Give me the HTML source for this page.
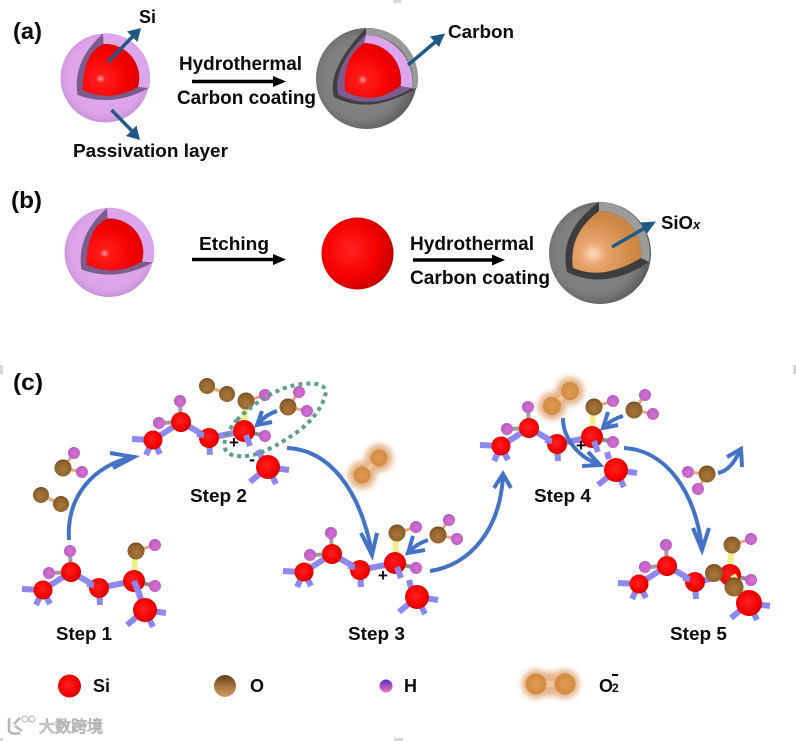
<!DOCTYPE html>
<html><head><meta charset="utf-8"><style>
html,body{margin:0;padding:0;background:#fff}
svg{display:block}
text{font-family:"Liberation Sans",Arial,sans-serif;font-weight:bold;fill:#0a0a0a}
</style></head><body>
<svg width="796" height="741" viewBox="0 0 796 741" xmlns="http://www.w3.org/2000/svg">
<defs>
<radialGradient id="pk" cx=".5" cy=".48" r=".55"><stop offset="0" stop-color="#e6b2f0"/><stop offset=".8" stop-color="#dca2e8"/><stop offset="1" stop-color="#c08ccf"/></radialGradient>
<radialGradient id="gy" cx=".45" cy=".5" r=".55"><stop offset="0" stop-color="#8f8f8f"/><stop offset=".75" stop-color="#7c7c7c"/><stop offset="1" stop-color="#5a5a5a"/></radialGradient>
<radialGradient id="rd" cx=".32" cy=".67" r=".8"><stop offset="0" stop-color="#ffa0a0"/><stop offset=".1" stop-color="#ff1c1c"/><stop offset=".6" stop-color="#f50000"/><stop offset="1" stop-color="#d80000"/></radialGradient>
<radialGradient id="rb" cx=".4" cy=".45" r=".62"><stop offset="0" stop-color="#ff2222"/><stop offset=".6" stop-color="#f60000"/><stop offset="1" stop-color="#c50000"/></radialGradient>
<radialGradient id="or" cx=".3" cy=".69" r=".85"><stop offset="0" stop-color="#ffdcc0"/><stop offset=".22" stop-color="#e9a56e"/><stop offset=".65" stop-color="#d18b48"/><stop offset="1" stop-color="#c47f3e"/></radialGradient>
<radialGradient id="si" cx=".45" cy=".45" r=".6"><stop offset="0" stop-color="#ff2020"/><stop offset=".75" stop-color="#f00000"/><stop offset="1" stop-color="#c80000"/></radialGradient>
<radialGradient id="ox" cx=".5" cy=".6" r=".65"><stop offset="0" stop-color="#a9773a"/><stop offset=".7" stop-color="#8e622c"/><stop offset="1" stop-color="#5f3f18"/></radialGradient>
<radialGradient id="hy" cx=".55" cy=".55" r=".65"><stop offset="0" stop-color="#d86fd0"/><stop offset=".7" stop-color="#bf62c6"/><stop offset="1" stop-color="#8a45b8"/></radialGradient>
<radialGradient id="o2" cx=".5" cy=".5" r=".6"><stop offset="0" stop-color="#e09a55"/><stop offset=".8" stop-color="#d48c44"/><stop offset="1" stop-color="#b87430"/></radialGradient>
<linearGradient id="lo" x1="0" y1="0" x2="0" y2="1"><stop offset="0" stop-color="#60401c"/><stop offset=".6" stop-color="#b07c42"/><stop offset="1" stop-color="#cf9a66"/></linearGradient>
<linearGradient id="lh" x1="0" y1="0" x2="0" y2="1"><stop offset="0" stop-color="#6028c0"/><stop offset="1" stop-color="#ea78bc"/></linearGradient>
<filter id="bl" x="-60%" y="-60%" width="220%" height="220%"><feGaussianBlur stdDeviation="3"/></filter>

<g id="chain">
<line x1="71" y1="572" x2="52" y2="573" stroke="#9c9c9c" stroke-width="4"/>
<circle cx="49" cy="573" r="6" fill="url(#hy)"/>
<g stroke="#8f88ec" stroke-width="6" fill="none">
<line x1="43" y1="590" x2="22" y2="589"/><line x1="43" y1="590" x2="36" y2="605"/><line x1="43" y1="590" x2="50" y2="604"/>
<line x1="43" y1="590" x2="71" y2="572"/><line x1="71" y1="572" x2="99" y2="588"/><line x1="99" y1="588" x2="134" y2="581"/>
<line x1="99" y1="588" x2="100" y2="605"/>
</g>
<line x1="134" y1="581" x2="135" y2="558" stroke="#f0ee90" stroke-width="6"/>
<line x1="71" y1="572" x2="70" y2="553" stroke="#a0a0a0" stroke-width="4"/>
<line x1="136" y1="551" x2="155" y2="545" stroke="#f0a080" stroke-width="3"/>
<line x1="134" y1="581" x2="155" y2="586" stroke="#8c8c8c" stroke-width="4"/>
<circle cx="43" cy="590" r="9.5" fill="url(#si)"/><circle cx="71" cy="572" r="10" fill="url(#si)"/><circle cx="99" cy="588" r="10" fill="url(#si)"/><circle cx="134" cy="581" r="11" fill="url(#si)"/>
<line x1="94" y1="585" x2="87" y2="584" stroke="#8f88ec" stroke-width="6"/>
<circle cx="70" cy="551" r="6" fill="url(#hy)"/><circle cx="155" cy="586" r="6" fill="url(#hy)"/>
<circle cx="155" cy="545" r="6" fill="url(#hy)"/><circle cx="136" cy="551" r="8.5" fill="url(#ox)"/>
<line x1="136" y1="585" x2="140" y2="596" stroke="#8f88ec" stroke-width="6"/>
</g>

<g id="fr">
<g stroke="#8f88ec" stroke-width="6">
<line x1="0" y1="0" x2="-18" y2="15"/><line x1="0" y1="0" x2="8" y2="17"/><line x1="0" y1="0" x2="21" y2="3"/>
</g>
<circle r="12" fill="url(#si)"/>
</g>

<g id="w">
<g stroke="#f2a488" stroke-width="3"><line x1="0" y1="0" x2="11" y2="-15"/><line x1="0" y1="0" x2="19" y2="4"/></g>
<circle cx="11" cy="-15" r="6" fill="url(#hy)"/><circle cx="19" cy="4" r="6" fill="url(#hy)"/><circle r="8.5" fill="url(#ox)"/>
</g>
</defs>

<rect width="796" height="741" fill="#fff"/>

<g fill="#d8d8d8">
<rect x="393" y="0" width="8" height="3"/><rect x="0" y="365" width="3" height="9"/><rect x="793" y="365" width="3" height="9"/><rect x="394" y="738" width="9" height="3"/><rect x="0" y="738" width="3" height="3"/>
</g>

<!-- (a) -->
<text x="13" y="39" font-size="23" textLength="29" lengthAdjust="spacingAndGlyphs">(a)</text>
<g id="s1">
<circle cx="105" cy="78" r="44.5" fill="url(#pk)"/>
<path d="M77.5,95 Q72,61 103,33.5 A44.5,44.5 0 0 1 149,88 Q112,108 77.5,95Z" fill="#7c5b8d"/>
<path d="M103,33.5 A44.5,44.5 0 0 1 149,88 L138,87 A34,34 0 0 0 103.5,44Z" fill="#dda6ea"/>
<path d="M82.5,90 Q83,53 103.5,44 A34,34 0 0 1 138,87 Q110,103 82.5,90Z" fill="url(#rd)"/>
</g>
<path d="M108,62 L136,33" stroke="#1f5a85" stroke-width="3.5"/><path d="M141,28 L137.5,42 L127,31.5Z" fill="#1f5a85"/>
<path d="M111.5,110 L135,134" stroke="#1f5a85" stroke-width="3.5"/><path d="M140,140 L126,136 L136.5,125.5Z" fill="#1f5a85"/>
<text x="139" y="23" font-size="18" textLength="17" lengthAdjust="spacingAndGlyphs">Si</text>
<text x="73" y="157" font-size="18" textLength="155" lengthAdjust="spacingAndGlyphs">Passivation layer</text>
<text x="179" y="70" font-size="19" textLength="123" lengthAdjust="spacingAndGlyphs">Hydrothermal</text>
<text x="177" y="104" font-size="19" textLength="139" lengthAdjust="spacingAndGlyphs">Carbon coating</text>
<path d="M192,81.5 H276" stroke="#000" stroke-width="3.5"/><path d="M286,81.5 L273,76 V87Z" fill="#000"/>

<circle cx="366.5" cy="78.5" r="50.5" fill="url(#gy)"/>
<path d="M334,97 Q326,70 366,28 A50.5,50.5 0 0 1 417,88 Q370,116 334,97Z" fill="#3f3f3f"/>
<path d="M366,28 A50.5,50.5 0 0 1 417,88 L412,89 A46,46 0 0 0 366,35Z" fill="#9a9a9a"/>
<path d="M338,94.5 Q332,68 365,35 A47,47 0 0 1 412,88 Q372,112 338,94.5Z" fill="#7c5b8d"/>
<path d="M366,35 A47,47 0 0 1 412,88 L400.5,86 A37,37 0 0 0 364,43Z" fill="#dda6ea"/>
<path d="M345,91 Q342,58 364,43 A37,37 0 0 1 400.5,86 Q372,107 345,91Z" fill="url(#rd)"/>
<path d="M408,65 L440,38" stroke="#1f5a85" stroke-width="3.5"/><path d="M445,33.5 L439,47 L430,36.5Z" fill="#1f5a85"/>
<text x="448" y="38" font-size="18" textLength="66" lengthAdjust="spacingAndGlyphs">Carbon</text>

<!-- (b) -->
<text x="11" y="208" font-size="23" textLength="31" lengthAdjust="spacingAndGlyphs">(b)</text>
<use href="#s1" transform="translate(4,174.5)"/>
<text x="199" y="250" font-size="18.5" textLength="70" lengthAdjust="spacingAndGlyphs">Etching</text>
<path d="M192,259.5 H276" stroke="#000" stroke-width="3.5"/><path d="M286,259.5 L273,254 V265Z" fill="#000"/>
<circle cx="357.5" cy="253.5" r="36" fill="url(#rb)"/>
<text x="410" y="250" font-size="19" textLength="124" lengthAdjust="spacingAndGlyphs">Hydrothermal</text>
<text x="410" y="284" font-size="19" textLength="140" lengthAdjust="spacingAndGlyphs">Carbon coating</text>
<path d="M413,260 H495" stroke="#000" stroke-width="3.5"/><path d="M505,260 L492,254.5 V265.5Z" fill="#000"/>
<circle cx="600" cy="253" r="51" fill="url(#gy)"/>
<path d="M567,272 Q558,232 599,202 A51,51 0 0 1 649,262 Q605,291 567,272Z" fill="#3d3d3d"/>
<path d="M599,202 A51,51 0 0 1 649,262 L641,258 A42,42 0 0 0 599,211Z" fill="#9b9b9b"/>
<path d="M573,268 Q568,234 599,211 A42,42 0 0 1 641,258 Q603,281 573,268Z" fill="url(#or)"/>
<path d="M612,247 L650,225" stroke="#1f5a85" stroke-width="3.5"/><path d="M656,221.5 L647,233.5 L640.5,222.5Z" fill="#1f5a85"/>
<text x="661" y="229" font-size="18" textLength="32" lengthAdjust="spacingAndGlyphs">SiO</text><text x="693" y="229" font-size="13" font-style="italic">x</text>

<!-- (c) -->
<text x="13" y="390" font-size="23" textLength="30" lengthAdjust="spacingAndGlyphs">(c)</text>

<!-- step 1 -->
<use href="#chain"/>
<line x1="134" y1="581" x2="145" y2="610" stroke="#8f88ec" stroke-width="6"/>
<use href="#fr" transform="translate(145,610)"/>
<text x="56" y="640" font-size="18" textLength="56" lengthAdjust="spacingAndGlyphs">Step 1</text>
<use href="#w" transform="translate(63,468)"/>
<g stroke="#dcb48c" stroke-width="3.5"><line x1="41" y1="495" x2="61" y2="504"/><line x1="207" y1="386" x2="227" y2="394"/></g>
<circle cx="41" cy="495" r="8" fill="url(#ox)"/><circle cx="61" cy="504" r="8" fill="url(#ox)"/>

<!-- step 2 -->
<use href="#chain" transform="translate(110,-150)"/>
<line x1="262" y1="458" x2="258" y2="450" stroke="#8f88ec" stroke-width="6"/>
<use href="#fr" transform="translate(268,467)"/>
<circle cx="207" cy="386" r="8" fill="url(#ox)"/><circle cx="227" cy="394" r="8" fill="url(#ox)"/>
<use href="#w" transform="translate(288,407)"/>
<path d="M237,420 Q265,392 295,385 Q325,380 326,392 Q322,412 300,430 Q272,450 253,455 Q226,460 224,445 Q226,432 237,420Z" fill="none" stroke="#5f9c8e" stroke-width="4" stroke-dasharray="4 4"/>
<text x="190" y="502" font-size="18" textLength="57" lengthAdjust="spacingAndGlyphs">Step 2</text>
<text x="229" y="448" font-size="17">+</text><text x="249" y="465" font-size="18">-</text>

<!-- step 3 -->
<use href="#chain" transform="translate(261,-18)"/>
<line x1="411" y1="588" x2="409" y2="580" stroke="#8f88ec" stroke-width="6"/>
<use href="#fr" transform="translate(417,597)"/>
<use href="#w" transform="translate(438,535)"/>
<text x="378" y="581" font-size="17">+</text>
<text x="348" y="640" font-size="18" textLength="57" lengthAdjust="spacingAndGlyphs">Step 3</text>

<!-- O2- glows -->
<g fill="#e5b48a" filter="url(#bl)"><circle cx="362" cy="475" r="14"/><circle cx="379" cy="458" r="14"/><circle cx="552" cy="406" r="14"/><circle cx="570" cy="391" r="14"/><circle cx="536" cy="684" r="14.5"/><circle cx="565" cy="684" r="14.5"/><rect x="536" y="672" width="29" height="24"/></g>
<g stroke="#f3c79c" stroke-width="4"><line x1="362" y1="475" x2="379" y2="458"/><line x1="552" y1="406" x2="570" y2="391"/><line x1="536" y1="684" x2="565" y2="684" stroke-width="6"/></g>
<g fill="url(#o2)"><circle cx="362" cy="475" r="8.5"/><circle cx="379" cy="458" r="8.5"/></g>

<!-- step 4 -->
<use href="#chain" transform="translate(458,-144)"/>
<line x1="609" y1="459" x2="607" y2="452" stroke="#8f88ec" stroke-width="6"/>
<use href="#fr" transform="translate(616,470)"/>
<g fill="url(#o2)"><circle cx="552" cy="406" r="9"/><circle cx="570" cy="391" r="9"/></g>
<use href="#w" transform="translate(634,410)"/>
<text x="576" y="451" font-size="17">+</text>
<text x="534" y="502" font-size="18" textLength="57" lengthAdjust="spacingAndGlyphs">Step 4</text>

<!-- step 5 -->
<use href="#chain" transform="translate(596,-6)"/>
<line x1="733" y1="575" x2="748" y2="603" stroke="#f0ee90" stroke-width="6"/>
<use href="#fr" transform="translate(749,603)"/>
<circle cx="749" cy="603" r="13" fill="url(#si)"/>
<circle cx="714" cy="573" r="9" fill="url(#ox)"/><circle cx="734" cy="587" r="9.5" fill="url(#ox)"/>
<text x="670" y="640" font-size="18" textLength="57" lengthAdjust="spacingAndGlyphs">Step 5</text>
<g stroke="#f2a488" stroke-width="3"><line x1="707" y1="474" x2="688" y2="472"/><line x1="707" y1="474" x2="698" y2="489"/></g>
<circle cx="688" cy="472" r="6" fill="url(#hy)"/><circle cx="698" cy="489" r="6" fill="url(#hy)"/><circle cx="707" cy="474" r="8.5" fill="url(#ox)"/>

<!-- blue arrows -->
<g fill="none" stroke="#4472c4" stroke-width="4" stroke-linejoin="miter">
<path d="M69,540 C66,495 95,465 133,457"/><path d="M110,453 L134,457 L113,468"/>
<path d="M287,448 C330,450 360,490 372,553"/><path d="M361,533 L372,555 L377,533"/>
<path d="M430,571 C470,565 500,530 503,476"/><path d="M494,488 L503,474 L511,488"/>
<path d="M624,448 C665,450 695,490 702,548"/><path d="M693,528 L702,550 L709,528"/>
<path d="M563,418 C563,440 580,458 600,465"/><path d="M582,466 L600,465 L588,452"/>
<path d="M718,473 C728,471 735,462 740,450"/><path d="M727,457 L741,449 L742,467"/>
<path d="M277,411 Q265,415 258,424"/><path d="M262,411 L257,425 L272,422"/>
<path d="M428,540 Q416,544 409,552"/><path d="M413,536 L408,553 L425,550"/>
<path d="M623,416 Q612,419 604,427"/><path d="M608,412 L603,428 L618,425"/>
</g>

<!-- legend -->
<circle cx="69.5" cy="686" r="11.5" fill="url(#si)"/>
<text x="93" y="692" font-size="18">Si</text>
<circle cx="225" cy="686" r="11" fill="url(#lo)"/>
<text x="250" y="692" font-size="18">O</text>
<circle cx="386" cy="686" r="6.5" fill="url(#lh)"/>
<text x="404" y="692" font-size="18">H</text>
<g fill="url(#o2)"><circle cx="536" cy="684" r="10.5"/><circle cx="565" cy="684" r="10.5"/></g>
<text x="599" y="692" font-size="18">O</text>
<text x="612" y="692" font-size="12">2</text>
<rect x="612" y="674" width="6" height="2" fill="#000"/>

<!-- watermark -->
<g fill="#fff" stroke="#b4b4b4" stroke-width="1">
<text x="39" y="732" font-size="16" style="font-family:'Liberation Sans','Noto Sans CJK SC',sans-serif;fill:#fff;font-weight:normal">大数跨境</text>
<path d="M9,718 V731 Q12,735 20,733 M14,724 L20,718 M15,726 L22,731" fill="none" stroke-width="2.5"/>
<circle cx="25" cy="719" r="3" fill="none"/><circle cx="32" cy="719" r="3" fill="none"/>
</g>
</svg>
</body></html>
